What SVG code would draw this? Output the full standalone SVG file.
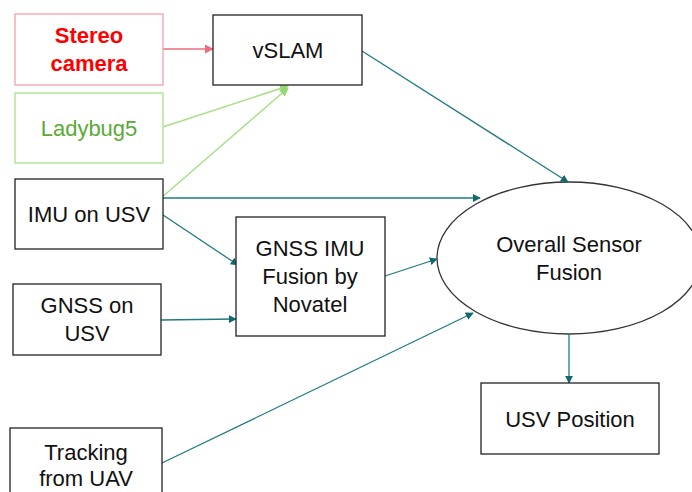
<svg xmlns="http://www.w3.org/2000/svg" width="692" height="492" viewBox="0 0 692 492">
<defs>
<style>
text{font-family:"Liberation Sans",Arial,sans-serif;font-size:22px;text-anchor:middle;fill:#111}
.box{fill:#fff;stroke:#222;stroke-width:1.3}
.teal{stroke:#1f7b80;stroke-width:1.3;fill:none;marker-end:url(#at)}
.green{stroke:#a8e08a;stroke-width:1.5;fill:none;marker-end:url(#ag)}
.red{stroke:#ee6b7a;stroke-width:1.3;fill:none;marker-end:url(#ar)}
</style>
<marker id="at" viewBox="0 0 10 10" refX="9" refY="5" markerWidth="8" markerHeight="8" markerUnits="userSpaceOnUse" orient="auto"><path d="M0,0L10,5L0,10z" fill="#13686e"/></marker>
<marker id="ag" viewBox="0 0 10 10" refX="9" refY="5" markerWidth="9" markerHeight="9" markerUnits="userSpaceOnUse" orient="auto"><path d="M0,0L10,5L0,10z" fill="#96d870"/></marker>
<marker id="ar" viewBox="0 0 10 10" refX="9" refY="5" markerWidth="9" markerHeight="9" markerUnits="userSpaceOnUse" orient="auto"><path d="M0,0L10,5L0,10z" fill="#ee6b7a"/></marker>
</defs>
<rect width="692" height="492" fill="#fff"/>
<g id="overall"><ellipse cx="569" cy="258" rx="132" ry="76" fill="#fff" stroke="#333" stroke-width="1.3"/><text x="569" y="252">Overall Sensor</text><text x="569" y="280">Fusion</text></g>
<g id="connectors">
<path class="red" d="M163,49L213,49"/>
<path class="green" d="M163,127L288,86"/>
<path class="green" d="M161,198L288,88"/>
<path class="teal" d="M161,198L480,198"/>
<path class="teal" d="M163,215L238,265"/>
<path class="teal" d="M161,320L236,319"/>
<path class="teal" d="M385,276L437,259"/>
<path class="teal" d="M362,51L568,182"/>
<path class="teal" d="M162,463L473,313"/>
<path class="teal" d="M569,334L569,383"/>
</g>
<g id="stereo"><rect x="15" y="14" width="148" height="71" fill="#fff" stroke="#f4a0aa" stroke-width="1.3"/><text x="89" y="43" font-weight="bold" style="fill:#ff0000">Stereo</text><text x="89" y="71" font-weight="bold" style="fill:#ff0000">camera</text></g>
<g id="vslam"><rect class="box" x="213" y="15" width="149" height="70"/><text x="288" y="58">vSLAM</text></g>
<g id="ladybug"><rect x="15" y="93" width="148" height="70" fill="#fff" stroke="#a8e08a" stroke-width="1.3"/><text x="89" y="136" style="fill:#5aaa36">Ladybug5</text></g>
<g id="imu"><rect class="box" x="15" y="179" width="148" height="70"/><text x="89" y="222">IMU on USV</text></g>
<g id="fusion"><rect class="box" x="236" y="217" width="149" height="119"/><text x="310" y="256">GNSS IMU</text><text x="310" y="284">Fusion by</text><text x="310" y="312">Novatel</text></g>
<g id="gnss"><rect class="box" x="13" y="284" width="148" height="71"/><text x="87" y="313">GNSS on</text><text x="87" y="341">USV</text></g>
<g id="tracking"><rect class="box" x="10" y="428" width="152" height="70"/><text x="86" y="460">Tracking</text><text x="86" y="486">from UAV</text></g>
<g id="usvpos"><rect class="box" x="481" y="383" width="178" height="71"/><text x="570" y="427">USV Position</text></g>
</svg>
